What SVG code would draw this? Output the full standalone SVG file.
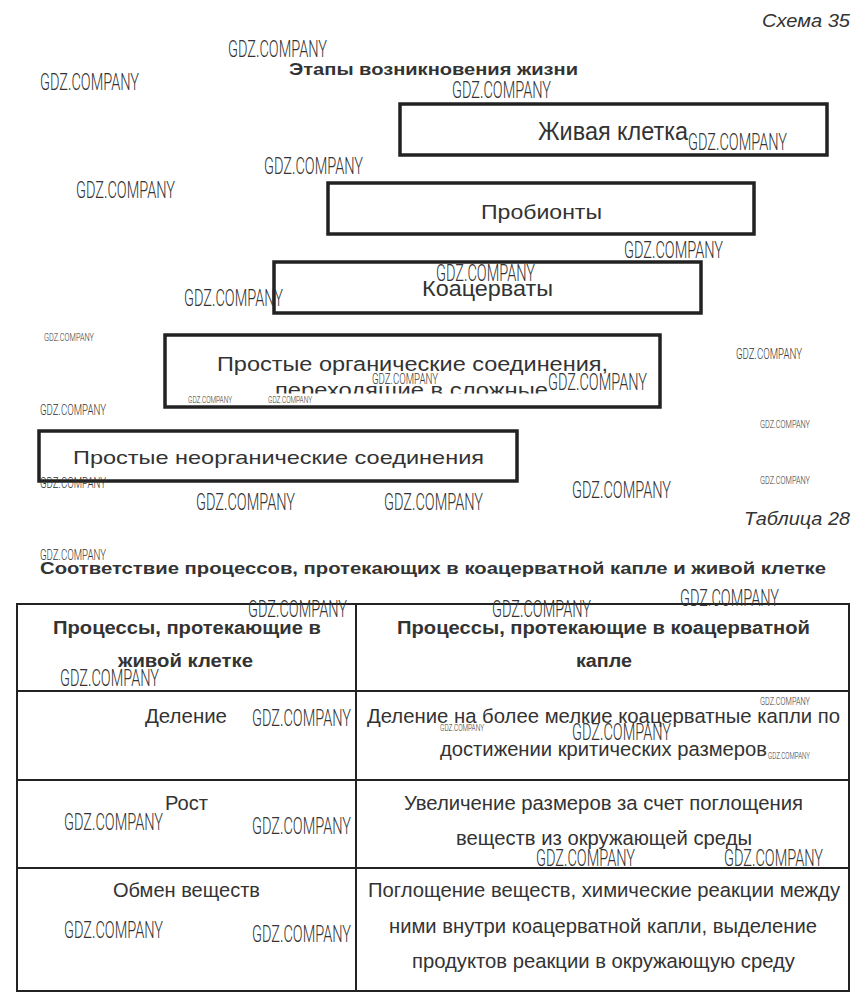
<svg xmlns="http://www.w3.org/2000/svg" width="864" height="1003" viewBox="0 0 864 1003">
<style>
.bg{fill:#fff}
.box{fill:#fff;stroke:#222;stroke-width:3.5}
.bt{font-family:"Liberation Sans",Arial,sans-serif;fill:#333}
.cap{font-family:"Liberation Sans",Arial,sans-serif;font-size:18px;font-style:italic;fill:#333}
.ttl{font-family:"Liberation Sans",Arial,sans-serif;font-size:17px;font-weight:bold;fill:#333}
.hd{font-family:"Liberation Sans",Arial,sans-serif;font-size:17.5px;font-weight:bold;fill:#333}
.td{font-family:"Liberation Sans",Arial,sans-serif;font-size:20.5px;fill:#333}
.tl{stroke:#222;stroke-width:2;fill:none}
.wm{font-family:Roboto,"Liberation Sans",sans-serif;fill:#333;font-weight:300}
.w1{font-size:24px}
.w2{font-size:15px}
.w3{font-size:11px}
.w4{font-size:8.5px}
</style>
<defs>
<clipPath id="c4"><rect x="165" y="335" width="496" height="58.5"/></clipPath>
</defs>
<rect class="bg" width="864" height="1003"/>

<text class="cap" x="762" y="27" textLength="88" lengthAdjust="spacingAndGlyphs">Схема 35</text>
<text class="ttl" x="289" y="75" textLength="289" lengthAdjust="spacingAndGlyphs">Этапы возникновения жизни</text>

<g id="node-cell">
<rect class="box" x="400" y="104" width="427" height="51"/>
<text class="bt" x="538" y="140" font-size="25" textLength="150" lengthAdjust="spacingAndGlyphs">Живая клетка</text>
</g>
<g id="node-probionts">
<rect class="box" x="328" y="183" width="426" height="51"/>
<text class="bt" x="481" y="218.5" font-size="20" textLength="121" lengthAdjust="spacingAndGlyphs">Пробионты</text>
</g>
<g id="node-coacervates">
<rect class="box" x="274" y="262" width="427" height="51"/>
<text class="bt" x="422" y="296" font-size="22" textLength="131" lengthAdjust="spacingAndGlyphs">Коацерваты</text>
</g>
<g id="node-organic">
<rect class="box" x="165" y="335" width="495" height="72"/>
<g clip-path="url(#c4)">
<text class="bt" x="217" y="371" font-size="20.5" textLength="391" lengthAdjust="spacingAndGlyphs">Простые органические соединения,</text>
<text class="bt" x="275" y="397" font-size="20.5" textLength="273" lengthAdjust="spacingAndGlyphs">переходящие в сложные</text>
</g>
</g>
<g id="node-inorganic">
<rect class="box" x="39" y="431" width="478" height="50"/>
<text class="bt" x="73" y="464" font-size="19" textLength="411" lengthAdjust="spacingAndGlyphs">Простые неорганические соединения</text>
</g>
<g id="connectors"></g>

<text class="cap" x="744" y="525" textLength="106" lengthAdjust="spacingAndGlyphs">Таблица 28</text>
<text class="ttl" x="40" y="573.5" textLength="786" lengthAdjust="spacingAndGlyphs">Соответствие процессов, протекающих в коацерватной капле и живой клетке</text>

<g id="table">
<rect class="tl" x="17" y="604" width="832" height="387"/>
<line class="tl" x1="356" y1="604" x2="356" y2="991"/>
<line class="tl" x1="17" y1="691" x2="849" y2="691"/>
<line class="tl" x1="17" y1="780" x2="849" y2="780"/>
<line class="tl" x1="17" y1="868" x2="849" y2="868"/>
<text class="hd" x="53" y="633.5" textLength="268" lengthAdjust="spacingAndGlyphs">Процессы, протекающие в</text>
<text class="hd" x="118" y="666.5" textLength="135" lengthAdjust="spacingAndGlyphs">живой клетке</text>
<text class="hd" x="397" y="633.5" textLength="413" lengthAdjust="spacingAndGlyphs">Процессы, протекающие в коацерватной</text>
<text class="hd" x="576" y="666.5" textLength="56" lengthAdjust="spacingAndGlyphs">капле</text>
<text class="td" x="145" y="722.5" textLength="82" lengthAdjust="spacingAndGlyphs">Деление</text>
<text class="td" x="367" y="722.5" textLength="473" lengthAdjust="spacingAndGlyphs">Деление на более мелкие коацерватные капли по</text>
<text class="td" x="440" y="755.5" textLength="327" lengthAdjust="spacingAndGlyphs">достижении критических размеров</text>
<text class="td" x="165" y="810" textLength="43" lengthAdjust="spacingAndGlyphs">Рост</text>
<text class="td" x="404" y="810" textLength="399" lengthAdjust="spacingAndGlyphs">Увеличение размеров за счет поглощения</text>
<text class="td" x="456" y="845" textLength="296" lengthAdjust="spacingAndGlyphs">веществ из окружающей среды</text>
<text class="td" x="113" y="897" textLength="147" lengthAdjust="spacingAndGlyphs">Обмен веществ</text>
<text class="td" x="368" y="897" textLength="472" lengthAdjust="spacingAndGlyphs">Поглощение веществ, химические реакции между</text>
<text class="td" x="389" y="932.5" textLength="428" lengthAdjust="spacingAndGlyphs">ними внутри коацерватной капли, выделение</text>
<text class="td" x="412" y="967.5" textLength="383" lengthAdjust="spacingAndGlyphs">продуктов реакции в окружающую среду</text>
</g>

<g id="watermarks">
<text class="wm w1" x="228" y="57" textLength="99" lengthAdjust="spacingAndGlyphs">GDZ.COMPANY</text>
<text class="wm w1" x="40" y="90" textLength="99" lengthAdjust="spacingAndGlyphs">GDZ.COMPANY</text>
<text class="wm w1" x="452" y="98" textLength="99" lengthAdjust="spacingAndGlyphs">GDZ.COMPANY</text>
<text class="wm w1" x="688" y="150" textLength="99" lengthAdjust="spacingAndGlyphs">GDZ.COMPANY</text>
<text class="wm w1" x="264" y="174" textLength="99" lengthAdjust="spacingAndGlyphs">GDZ.COMPANY</text>
<text class="wm w1" x="76" y="198" textLength="99" lengthAdjust="spacingAndGlyphs">GDZ.COMPANY</text>
<text class="wm w1" x="624" y="258" textLength="99" lengthAdjust="spacingAndGlyphs">GDZ.COMPANY</text>
<text class="wm w1" x="436" y="281" textLength="99" lengthAdjust="spacingAndGlyphs">GDZ.COMPANY</text>
<text class="wm w1" x="184" y="306" textLength="99" lengthAdjust="spacingAndGlyphs">GDZ.COMPANY</text>
<text class="wm w3" x="44" y="341" textLength="50" lengthAdjust="spacingAndGlyphs">GDZ.COMPANY</text>
<text class="wm w2" x="736" y="359" textLength="66" lengthAdjust="spacingAndGlyphs">GDZ.COMPANY</text>
<text class="wm w2" x="372" y="384" textLength="66" lengthAdjust="spacingAndGlyphs">GDZ.COMPANY</text>
<text class="wm w1" x="548" y="390" textLength="99" lengthAdjust="spacingAndGlyphs">GDZ.COMPANY</text>
<text class="wm w4" x="188" y="403" textLength="44" lengthAdjust="spacingAndGlyphs">GDZ.COMPANY</text>
<text class="wm w4" x="268" y="403" textLength="44" lengthAdjust="spacingAndGlyphs">GDZ.COMPANY</text>
<text class="wm w2" x="40" y="415" textLength="66" lengthAdjust="spacingAndGlyphs">GDZ.COMPANY</text>
<text class="wm w3" x="760" y="428" textLength="50" lengthAdjust="spacingAndGlyphs">GDZ.COMPANY</text>
<text class="wm w2" x="40" y="488" textLength="66" lengthAdjust="spacingAndGlyphs">GDZ.COMPANY</text>
<text class="wm w3" x="760" y="484" textLength="50" lengthAdjust="spacingAndGlyphs">GDZ.COMPANY</text>
<text class="wm w1" x="572" y="498" textLength="99" lengthAdjust="spacingAndGlyphs">GDZ.COMPANY</text>
<text class="wm w1" x="196" y="510" textLength="99" lengthAdjust="spacingAndGlyphs">GDZ.COMPANY</text>
<text class="wm w1" x="384" y="510" textLength="99" lengthAdjust="spacingAndGlyphs">GDZ.COMPANY</text>
<text class="wm w2" x="40" y="560" textLength="66" lengthAdjust="spacingAndGlyphs">GDZ.COMPANY</text>
<text class="wm w1" x="680" y="606" textLength="99" lengthAdjust="spacingAndGlyphs">GDZ.COMPANY</text>
<text class="wm w1" x="248" y="617" textLength="99" lengthAdjust="spacingAndGlyphs">GDZ.COMPANY</text>
<text class="wm w1" x="492" y="617" textLength="99" lengthAdjust="spacingAndGlyphs">GDZ.COMPANY</text>
<text class="wm w1" x="60" y="686" textLength="99" lengthAdjust="spacingAndGlyphs">GDZ.COMPANY</text>
<text class="wm w1" x="252" y="726" textLength="99" lengthAdjust="spacingAndGlyphs">GDZ.COMPANY</text>
<text class="wm w3" x="760" y="705" textLength="50" lengthAdjust="spacingAndGlyphs">GDZ.COMPANY</text>
<text class="wm w4" x="440" y="731" textLength="44" lengthAdjust="spacingAndGlyphs">GDZ.COMPANY</text>
<text class="wm w1" x="572" y="740" textLength="99" lengthAdjust="spacingAndGlyphs">GDZ.COMPANY</text>
<text class="wm w4" x="768" y="759" textLength="42" lengthAdjust="spacingAndGlyphs">GDZ.COMPANY</text>
<text class="wm w1" x="64" y="830" textLength="99" lengthAdjust="spacingAndGlyphs">GDZ.COMPANY</text>
<text class="wm w1" x="252" y="834" textLength="99" lengthAdjust="spacingAndGlyphs">GDZ.COMPANY</text>
<text class="wm w1" x="536" y="866" textLength="99" lengthAdjust="spacingAndGlyphs">GDZ.COMPANY</text>
<text class="wm w1" x="724" y="866" textLength="99" lengthAdjust="spacingAndGlyphs">GDZ.COMPANY</text>
<text class="wm w1" x="64" y="938" textLength="99" lengthAdjust="spacingAndGlyphs">GDZ.COMPANY</text>
<text class="wm w1" x="252" y="942" textLength="99" lengthAdjust="spacingAndGlyphs">GDZ.COMPANY</text>
</g>
</svg>
